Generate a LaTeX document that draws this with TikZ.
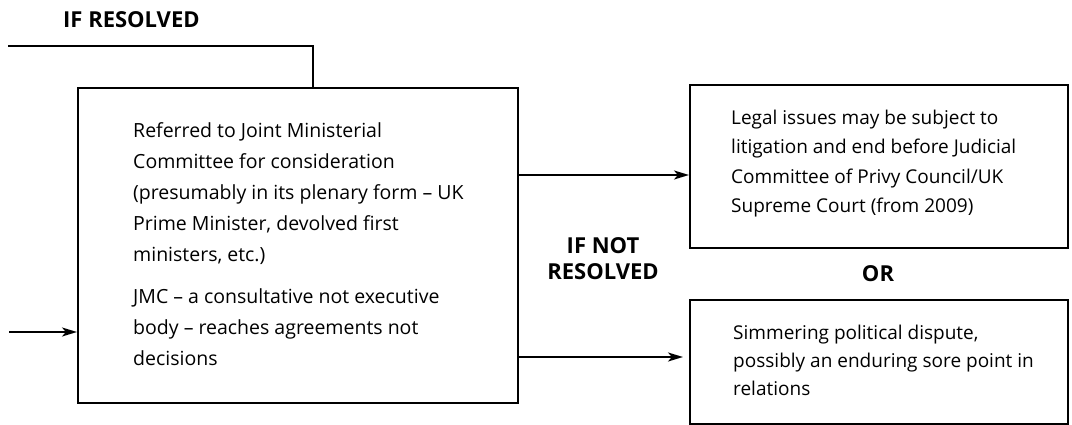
\documentclass[tikz,border=0pt]{standalone}
\usepackage{fontspec}
\setmainfont{Open Sans}
\usetikzlibrary{arrows.meta}
\tikzset{
  box/.style={draw=black, line width=2pt, inner sep=0pt, anchor=north west},
  body/.style={anchor=base west, inner sep=0pt, align=left},
  lbl/.style={inner sep=0pt, align=center, font=\bfseries\fontsize{22}{26}\selectfont},
  conn/.style={line width=2pt, -{Stealth[length=15pt,width=9pt,inset=4pt]}},
  plain/.style={line width=2pt}
}
\begin{document}
\begin{tikzpicture}[x=1pt,y=-1pt]
\useasboundingbox (0,0) rectangle (1072,425);
% boxes
\node[box, minimum width=440pt, minimum height=315pt] (main) at (77,87) {};
\node[box, minimum width=378pt, minimum height=163pt] (legal) at (689,84) {};
\node[box, minimum width=378pt, minimum height=124pt] (pol) at (689,299) {};
% texts (anchored at the baseline of their last line)
\node[body, font=\fontsize{19.5}{31}\selectfont] (maintext) at (133,365)
 {Referred to Joint Ministerial\\Committee for consideration\\(presumably in its plenary form – UK\\Prime Minister, devolved first\\ministers, etc.)\\[11pt]JMC – a consultative not executive\\body – reaches agreements not\\decisions};
\node[body, font=\fontsize{19}{29.5}\selectfont] (legaltext) at (731,213)
 {Legal issues may be subject to\\litigation and end before Judicial\\Committee of Privy Council/UK\\Supreme Court (from 2009)};
\node[body, font=\fontsize{19}{28}\selectfont] (poltext) at (733,395)
 {Simmering political dispute,\\possibly an enduring sore point in\\relations};
% labels
\node[lbl, anchor=base west] (res) at (63,28) {IF RESOLVED};
\node[lbl, anchor=base] (notres) at (603,279) {IF NOT\\RESOLVED};
\node[lbl, anchor=base] (or) at (878,281) {OR};
% connectors
\coordinate (resstart) at (8,46);
\coordinate (inflow) at (9,332);
\draw[plain] (resstart) -- (313,46) -- (313,87);
\draw[conn] (inflow) -- (inflow -| main.west);
\draw[conn] (main.east |- 0,175) -- (legal.west |- 0,175);
\draw[conn, shorten >=6pt] (main.east |- 0,357) -- (pol.west |- 0,357);
\end{tikzpicture}
\end{document}
